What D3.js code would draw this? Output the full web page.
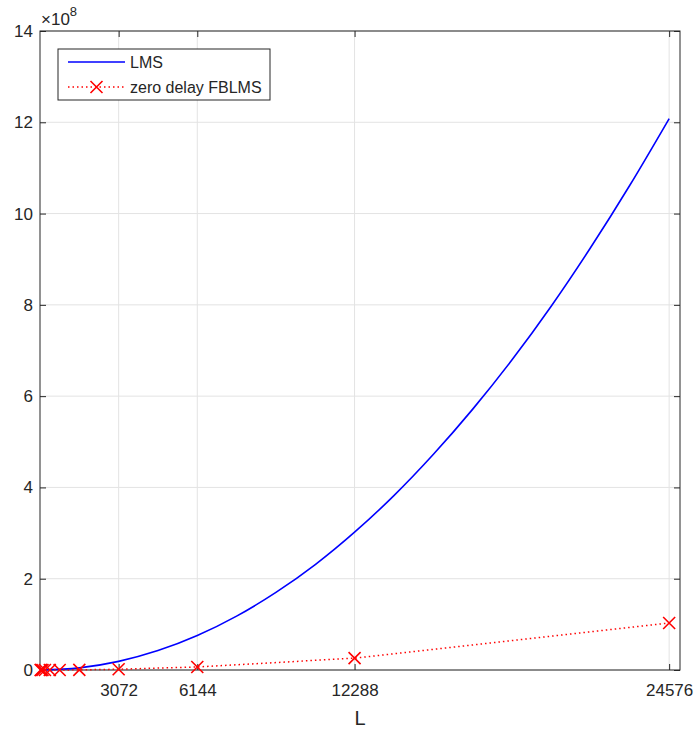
<!DOCTYPE html>
<html>
<head>
<meta charset="utf-8">
<script src="https://cdn.jsdelivr.net/npm/d3@7"></script>
<style>
  body { margin: 0; background: #fff; }
  text { font-family: "Liberation Sans", Arial, sans-serif; fill: #262626; }
</style>
</head>
<body>
<script>
// LMS cost (x1e8)
const lmsL = [0, 1536, 3072, 4608, 6144, 7680, 9216, 10752, 12288, 13824, 15360, 16896, 18432, 19968, 21504, 23040, 24576]
const lmsVal = [0, 0.047, 0.189, 0.425, 0.755, 1.18, 1.70, 2.31, 3.02, 3.82, 4.72, 5.71, 6.79, 7.97, 9.25, 10.62, 12.08]

// zero delay FBLMS markers (x1e8)
const fbL = [24, 48, 96, 192, 384, 768, 1536, 3072, 6144, 12288, 24576]
const fbVal = [0, 0, 0, 0, 0.0003, 0.001, 0.004, 0.017, 0.066, 0.26, 1.03]

const xTicks = [3072, 6144, 12288, 24576]
const yTicks = [0, 2, 4, 6, 8, 10, 12, 14]

const width = 694
const height = 729
const padL = 40, padR = 680, padT = 31, padB = 670

const svg = d3.select("body")
  .append("svg")
    .attr("width", width)
    .attr("height", height)

const x = d3.scaleLinear().domain([0, 25000]).range([padL, padR])
const y = d3.scaleLinear().domain([0, 14]).range([padB, padT])

// grid
svg.append("g")
  .selectAll("line")
  .data(xTicks)
  .enter()
    .append("line")
    .attr("x1", (d) => x(d)).attr("x2", (d) => x(d))
    .attr("y1", padT).attr("y2", padB)
    .attr("stroke", "#e3e3e3")
svg.append("g")
  .selectAll("line")
  .data(yTicks)
  .enter()
    .append("line")
    .attr("x1", padL).attr("x2", padR)
    .attr("y1", (d) => y(d)).attr("y2", (d) => y(d))
    .attr("stroke", "#e3e3e3")

// axes
const axisStyle = (g) => {
  g.select(".domain").remove()
  g.selectAll(".tick line").attr("stroke", "#262626")
  g.selectAll(".tick text").style("font-size", "17px").attr("fill", "#262626")
}
svg.append("g")
  .attr("transform", `translate(0,${padB})`)
  .call(d3.axisBottom(x).tickValues(xTicks).tickFormat(d3.format("d")).tickSizeInner(-6).tickSizeOuter(0).tickPadding(14))
  .call(axisStyle)
svg.append("g")
  .attr("transform", `translate(0,${padT})`)
  .call(d3.axisTop(x).tickValues(xTicks).tickSizeInner(-6).tickSizeOuter(0).tickFormat(""))
  .call(axisStyle)
svg.append("g")
  .attr("transform", `translate(${padL},0)`)
  .call(d3.axisLeft(y).tickValues(yTicks).tickSizeInner(-6).tickSizeOuter(0).tickPadding(7))
  .call(axisStyle)
svg.append("g")
  .attr("transform", `translate(${padR},0)`)
  .call(d3.axisRight(y).tickValues(yTicks).tickSizeInner(-6).tickSizeOuter(0).tickFormat(""))
  .call(axisStyle)

svg.append("rect")
  .attr("x", padL).attr("y", padT)
  .attr("width", padR - padL).attr("height", padB - padT)
  .attr("fill", "none")
  .attr("stroke", "#262626")

// LMS line
svg.append("path")
  .datum(d3.zip(lmsL, lmsVal))
  .attr("fill", "none")
  .attr("stroke", "#0000ff")
  .attr("stroke-width", 1.6)
  .attr("d", d3.line().x((d) => x(d[0])).y((d) => y(d[1])).curve(d3.curveMonotoneX))

// FBLMS dotted line + markers
const fb = d3.zip(fbL, fbVal)
svg.append("path")
  .datum(fb)
  .attr("fill", "none")
  .attr("stroke", "#ff0000")
  .attr("stroke-width", 1.5)
  .attr("stroke-dasharray", "1.5,3")
  .attr("d", d3.line().x((d) => x(d[0])).y((d) => y(d[1])))

const cross = (g, cx, cy, s) => {
  g.append("path")
    .attr("d", `M${cx - s},${cy - s}L${cx + s},${cy + s}M${cx - s},${cy + s}L${cx + s},${cy - s}`)
    .attr("stroke", "#ff0000")
    .attr("stroke-width", 1.6)
    .attr("fill", "none")
}
const marks = svg.append("g")
fb.forEach((d) => cross(marks, x(d[0]), y(d[1]), 6))

// exponent label
const ex = svg.append("text").attr("x", 41).attr("y", 25).style("font-size", "17px")
ex.append("tspan").text("\u00d710")
ex.append("tspan").attr("dy", -9).style("font-size", "13px").text("8")

// x label
svg.append("text")
  .attr("x", (padL + padR) / 2).attr("y", 725)
  .attr("text-anchor", "middle")
  .style("font-size", "20px")
  .text("L")

// legend
const lg = svg.append("g")
lg.append("rect")
  .attr("x", 58).attr("y", 49).attr("width", 212).attr("height", 51)
  .attr("fill", "#fff").attr("stroke", "#262626")
lg.append("line")
  .attr("x1", 68).attr("x2", 125).attr("y1", 62).attr("y2", 62)
  .attr("stroke", "#0000ff").attr("stroke-width", 1.6)
lg.append("text").attr("x", 130).attr("y", 68).style("font-size", "16px").text("LMS")
lg.append("line")
  .attr("x1", 68).attr("x2", 125).attr("y1", 87).attr("y2", 87)
  .attr("stroke", "#ff0000").attr("stroke-width", 1.5).attr("stroke-dasharray", "1.5,3")
cross(lg, 96.5, 87, 6)
lg.append("text").attr("x", 130).attr("y", 93).style("font-size", "16px").text("zero delay FBLMS")
</script>
</body>
</html>
